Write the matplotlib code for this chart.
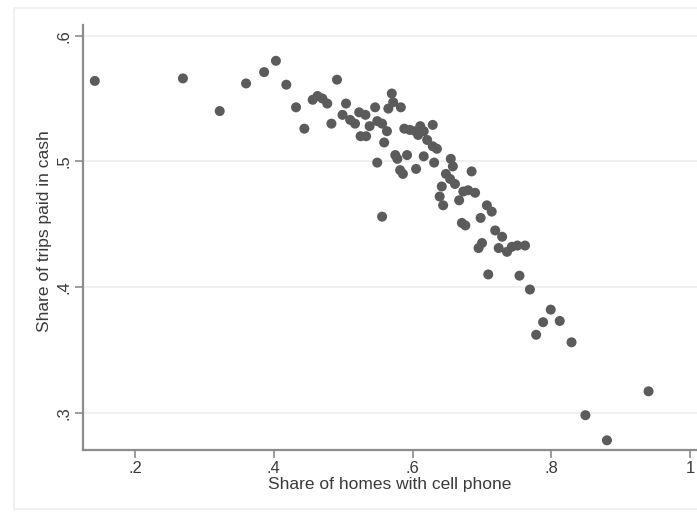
import matplotlib
matplotlib.use("Agg")
import matplotlib.pyplot as plt
from matplotlib.patches import Rectangle

# Share of homes with cell phone
cell_share = [
    0.142, 0.269, 0.322, 0.360, 0.386, 0.403, 0.418, 0.432, 0.444, 0.456,
    0.463, 0.470, 0.477, 0.483, 0.491, 0.504, 0.499, 0.510, 0.517, 0.523,
    0.532, 0.525, 0.533, 0.538, 0.546, 0.549, 0.556, 0.563, 0.559, 0.570,
    0.565, 0.572, 0.583, 0.549, 0.575, 0.578, 0.592, 0.582, 0.586, 0.605,
    0.588, 0.596, 0.604, 0.611, 0.616, 0.629, 0.608, 0.621, 0.616, 0.635,
    0.629, 0.631, 0.655, 0.658, 0.648, 0.654, 0.661, 0.685, 0.642, 0.639,
    0.644, 0.673, 0.680, 0.690, 0.667, 0.707, 0.714, 0.698, 0.671, 0.676,
    0.719, 0.729, 0.700, 0.695, 0.724, 0.736, 0.743, 0.751, 0.762, 0.709,
    0.754, 0.769, 0.799, 0.788, 0.812, 0.778, 0.829, 0.940, 0.849, 0.880,
    0.556,
]
# Share of trips paid in cash
cash_share = [
    0.564, 0.566, 0.540, 0.562, 0.571, 0.580, 0.561, 0.543, 0.526, 0.549,
    0.552, 0.550, 0.546, 0.530, 0.565, 0.546, 0.537, 0.533, 0.530, 0.539,
    0.537, 0.520, 0.520, 0.528, 0.543, 0.532, 0.530, 0.524, 0.515, 0.554,
    0.542, 0.547, 0.543, 0.499, 0.505, 0.502, 0.505, 0.493, 0.490, 0.494,
    0.526, 0.525, 0.524, 0.528, 0.524, 0.529, 0.521, 0.517, 0.504, 0.510,
    0.512, 0.499, 0.502, 0.496, 0.490, 0.486, 0.482, 0.492, 0.480, 0.472,
    0.465, 0.476, 0.477, 0.475, 0.469, 0.465, 0.460, 0.455, 0.451, 0.449,
    0.445, 0.440, 0.435, 0.431, 0.431, 0.428, 0.432, 0.433, 0.433, 0.410,
    0.409, 0.398, 0.382, 0.372, 0.373, 0.362, 0.356, 0.317, 0.298, 0.278,
    0.456,
]
x_ticks = [0.2, 0.4, 0.6, 0.8, 1.0]
x_tick_labels = [".2", ".4", ".6", ".8", "1"]
y_ticks = [0.3, 0.4, 0.5, 0.6]
y_tick_labels = [".3", ".4", ".5", ".6"]
x_label = "Share of homes with cell phone"
y_label = "Share of trips paid in cash"

plt.rcParams['font.family'] = ['Liberation Sans Narrow', 'Liberation Sans', 'DejaVu Sans']

W, H = 697, 516
fig = plt.figure(figsize=(W / 100, H / 100), dpi=100)
fig.patch.set_facecolor("white")

# faint outer graph-region border
fig.patches.append(Rectangle((14 / W, 1 - 509 / H), 1.0, (509 - 8) / H,
                             transform=fig.transFigure, fill=False,
                             edgecolor="#eeeeee", linewidth=1.2))

ax = fig.add_axes([83 / W, 1 - 450 / H, (W - 83) / W, (450 - 25) / H])
ax.set_facecolor("white")

ax.scatter(cell_share, cash_share, s=52, color="#5b5b5b", edgecolors="none",
           zorder=3)

ax.set_xlim(0.125, 1.0098)
ax.set_ylim(0.2703, 0.6085)

ax.set_xticks(x_ticks)
ax.set_xticklabels(x_tick_labels)
ax.set_yticks(y_ticks)
ax.set_yticklabels(y_tick_labels, rotation=90, va="center")

for y in y_ticks:
    ax.axhline(y, color="#f0f0f0", linewidth=1.5, zorder=1)

for side in ["top", "right"]:
    ax.spines[side].set_visible(False)
for side in ["left", "bottom"]:
    ax.spines[side].set_color("#8c8c8c")
    ax.spines[side].set_linewidth(1.6)

ax.tick_params(axis="both", direction="out", length=6, width=1.2,
               color="#8c8c8c", labelsize=12, labelcolor="#3a3a3a", pad=2)

ax.set_xlabel(x_label, fontsize=12.5, color="#3a3a3a", labelpad=1)
ax.set_ylabel(y_label, fontsize=12.5, color="#3a3a3a", labelpad=4)
ax.yaxis.set_label_coords(-0.05, 0.515)

fig.savefig("out.png", dpi=100)
